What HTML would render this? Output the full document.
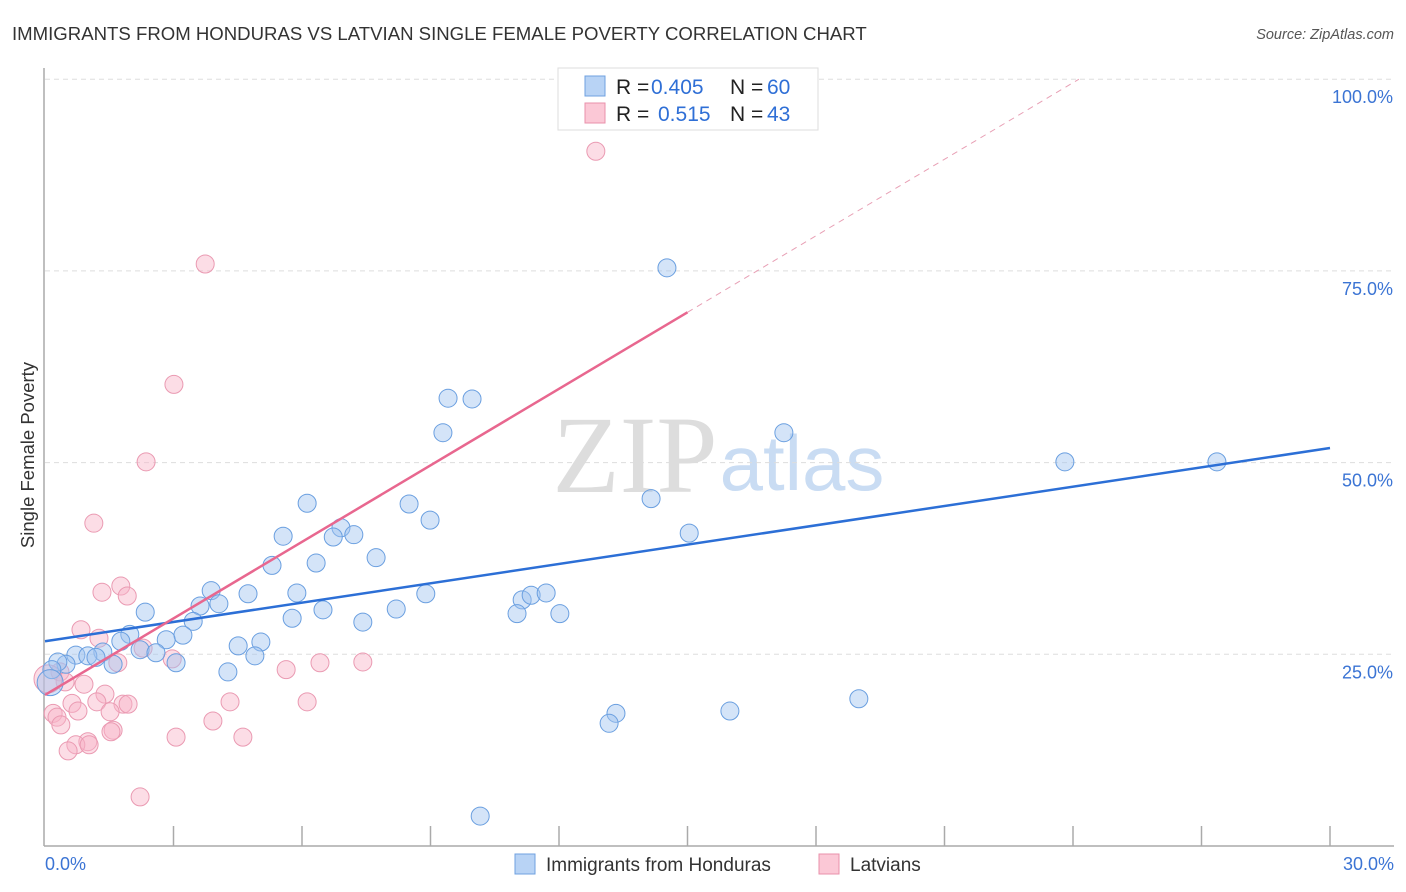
<!DOCTYPE html>
<html><head><meta charset="utf-8"><style>
body{margin:0;background:#fff;font-family:"Liberation Sans",sans-serif}
svg{display:block}
</style></head><body>
<svg id="chart" width="1406" height="892">
<text x="12" y="40" font-size="18.6" fill="#333">IMMIGRANTS FROM HONDURAS VS LATVIAN SINGLE FEMALE POVERTY CORRELATION CHART</text>
<text x="1394" y="39" font-size="14.5" fill="#555" font-style="italic" text-anchor="end">Source: ZipAtlas.com</text>
<text x="34" y="455" font-size="18.5" fill="#333" text-anchor="middle" transform="rotate(-90 34 455)">Single Female Poverty</text>
<g><text x="635" y="492" font-size="110" font-family="Liberation Serif" fill="#ddd" text-anchor="middle">ZIP</text><text x="802" y="490" font-size="78" fill="#c9dcf3" text-anchor="middle">atlas</text></g>
<g id="grid"></g><g id="axes"></g><g id="marks"></g>
<g>
<rect x="558" y="68" width="260" height="62" fill="#fff" stroke="#ddd"/>
<rect x="585" y="76" width="20" height="20" fill="#b8d3f5" stroke="#6fa0e0"/>
<rect x="585" y="103" width="20" height="20" fill="#fbc8d6" stroke="#e990ab"/>
<text x="616" y="94" font-size="21" fill="#222">R = <tspan x="651" fill="#2f6fd6">0.405</tspan><tspan x="730">N = </tspan><tspan x="767" fill="#2f6fd6">60</tspan></text>
<text x="616" y="121" font-size="21" fill="#222">R = <tspan x="658" fill="#2f6fd6">0.515</tspan><tspan x="730">N = </tspan><tspan x="767" fill="#2f6fd6">43</tspan></text>
</g>
<g>
<rect x="515" y="854" width="20" height="20" fill="#b8d3f5" stroke="#6fa0e0"/>
<text x="546" y="871" font-size="19" fill="#333">Immigrants from Honduras</text>
<rect x="819" y="854" width="20" height="20" fill="#fbc8d6" stroke="#e990ab"/>
<text x="850" y="871" font-size="19" fill="#333">Latvians</text>
</g>
</svg>
<script>
const yTicks=[25,50,75,100];
const yTickLabels=["25.0%","50.0%","75.0%","100.0%"];
const xTicks=[0,3,6,9,12,15,18,21,24,27,30];
const blueX=[14.52,9.41,9.97,9.29,17.25,23.81,27.36,6.12,8.50,14.15,8.99,15.04,5.56,6.91,6.73,7.21,7.73,5.30,6.33,3.88,4.74,5.88,8.89,11.14,11.35,11.70,3.62,4.06,2.34,6.49,8.20,11.02,12.02,3.46,5.77,7.42,3.22,1.98,1.77,2.83,4.51,5.04,2.22,2.59,1.35,0.72,1.00,1.19,4.90,3.06,1.59,0.49,0.30,0.16,4.27,0.12,19.0,13.33,13.17,15.99,10.16];
const blueY=[75.4,58.4,58.3,53.9,53.9,50.1,50.1,44.7,44.6,45.3,42.5,40.8,40.4,41.5,40.3,40.6,37.6,36.6,36.9,33.3,32.9,33.0,32.9,32.1,32.7,33.0,31.3,31.6,30.5,30.8,30.9,30.3,30.3,29.3,29.7,29.2,27.5,27.6,26.7,26.9,26.1,26.6,25.6,25.2,25.3,24.9,24.8,24.6,24.8,23.9,23.7,23.7,24.0,23.0,22.7,21.3,19.2,17.3,16.0,17.6,3.9];
const pinkX=[12.86,3.74,3.01,2.36,1.14,1.77,1.33,1.92,0.84,1.26,2.29,2.97,1.70,6.42,7.42,5.63,0.35,0.47,0.91,1.40,4.32,6.12,1.21,1.82,1.94,0.63,0.77,1.52,0.19,0.28,3.92,0.37,1.59,1.54,4.62,3.06,1.00,0.72,1.03,0.54,2.22,0.07];
const pinkY=[90.6,75.9,60.2,50.1,42.1,33.9,33.1,32.6,28.2,27.1,25.8,24.4,23.9,23.9,24.0,23.0,22.7,21.4,21.1,19.8,18.8,18.8,18.8,18.5,18.5,18.6,17.6,17.5,17.3,16.8,16.3,15.8,15.1,14.9,14.2,14.2,13.6,13.2,13.2,12.4,6.4,21.8];
const blueTrend=[26.7,51.9];
const pinkTrend=[19.7,69.6];
const NS="http://www.w3.org/2000/svg";
const X=v=>45+v*(1285/30), Y=v=>846-v*7.668;
function mk(tag,attrs,parent){const e=document.createElementNS(NS,tag);for(const k in attrs)e.setAttribute(k,attrs[k]);document.getElementById(parent).appendChild(e);return e;}
yTicks.forEach((t,i)=>{
 const l=mk('line',{x1:45,x2:1394,y1:Y(t),y2:Y(t),stroke:'#ddd','stroke-dasharray':'5,4'},'grid');
 
 
 const tx=mk('text',{x:1393,y:Y(t)+24,'font-size':18,fill:'#3b74d4','text-anchor':'end'},'grid');
 tx.textContent=yTickLabels[i];
 
 
});
let a=mk('line',{x1:44,x2:44,y1:68,y2:846,stroke:'#aaa','stroke-width':1.5},'axes');


a=mk('line',{x1:44,x2:1394,y1:846,y2:846,stroke:'#aaa','stroke-width':1.5},'axes');


xTicks.forEach(t=>{if(t===0)return;const l=mk('line',{x1:X(t),x2:X(t),y1:826,y2:846,stroke:'#aaa','stroke-width':1.5},'axes');
 
 });
let tl=mk('text',{x:45,y:870,'font-size':18,fill:'#3b74d4'},'axes');tl.textContent="0.0%";


tl=mk('text',{x:1394,y:870,'font-size':18,fill:'#3b74d4','text-anchor':'end'},'axes');tl.textContent="30.0%";


pinkX.forEach((x,i)=>{const c=mk('circle',{cx:X(x),cy:Y(pinkY[i]),r:i===pinkX.length-1?14:9,fill:'rgba(248,180,200,0.45)',stroke:'#ea9ab2','stroke-width':1},'marks');
 
 });
blueX.forEach((x,i)=>{const c=mk('circle',{cx:X(x),cy:Y(blueY[i]),r:i===55?13:9,fill:'rgba(160,196,240,0.45)',stroke:'#6a9fe0','stroke-width':1},'marks');
 
 });
let ln=mk('line',{x1:X(0),y1:Y(blueTrend[0]),x2:X(30),y2:Y(blueTrend[1]),stroke:'#2c6fd6','stroke-width':2.5},'marks');


const slope=(pinkTrend[1]-pinkTrend[0])/15;
ln=mk('line',{x1:X(0),y1:Y(pinkTrend[0]),x2:X(15),y2:Y(pinkTrend[1]),stroke:'#e8678f','stroke-width':2.5},'marks');


const xe=(100-pinkTrend[0])/slope;
ln=mk('line',{x1:X(15),y1:Y(pinkTrend[1]),x2:X(xe),y2:Y(100),stroke:'#e8a0b5','stroke-width':1,'stroke-dasharray':'6,5'},'marks');


</script>
</body></html>
